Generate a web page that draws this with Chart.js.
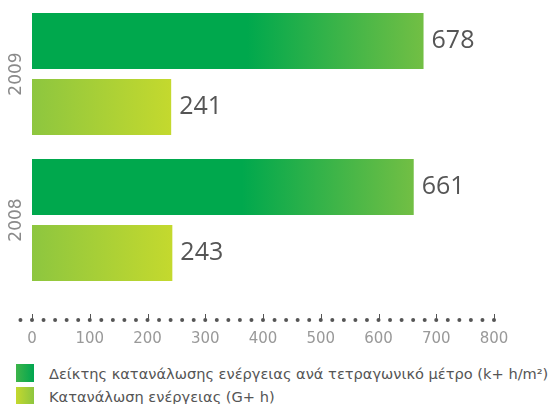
<!DOCTYPE html>
<html>
<head>
<meta charset="utf-8">
<script src="https://cdn.jsdelivr.net/npm/chart.js@4.4.1/dist/chart.umd.min.js"></script>
<style>
  html, body { margin: 0; padding: 0; background: #fff; }
  body { width: 555px; height: 404px; position: relative; overflow: hidden; font-family: "DejaVu Sans", sans-serif; }
  #wrap { position: absolute; left: 0; top: 0; width: 555px; height: 352px; }
  .legend { position: absolute; left: 16px; top: 364px; }
  .legend .item { display: flex; align-items: center; height: 18px; margin-bottom: 5px; color: #555; font-size: 14.6px; white-space: nowrap; }
  .legend .box { width: 18px; height: 18px; margin-right: 15px; flex: none; }
</style>
</head>
<body>
<div id="wrap"><canvas id="chart"></canvas></div>
<div class="legend">
  <div class="item"><span class="box" style="background: linear-gradient(to right, #3db449, #00a651)"></span><span id="lab0"></span></div>
  <div class="item"><span class="box" style="background: linear-gradient(to right, #c4d82e, #8dc63f)"></span><span id="lab1"></span></div>
</div>
<script>
const years = ['2009', '2008']
const seriesNames = ['Δείκτης κατανάλωσης ενέργειας ανά τετραγωνικό μέτρο (k+ h/m²)', 'Κατανάλωση ενέργειας (G+ h)']
const intensity = [678, 661]
const consumption = [241, 243]
const xTicks = [0, 100, 200, 300, 400, 500, 600, 700, 800]

const FONT = '"DejaVu Sans", sans-serif'
const NUM_FONT = '"Open Sans", sans-serif'

document.getElementById('lab0').textContent = seriesNames[0]
document.getElementById('lab1').textContent = seriesNames[1]

// horizontal gradient running from the zero line to the end of each bar
function barGradient(ctx, stops) {
  const chart = ctx.chart
  const x = chart.scales.x
  const fallback = stops[stops.length - 1][1]
  if (!x || !ctx.parsed) return fallback
  const x0 = x.getPixelForValue(0)
  const x1 = x.getPixelForValue(ctx.parsed.x)
  if (!isFinite(x0) || !isFinite(x1) || x1 <= x0) return fallback
  const g = chart.ctx.createLinearGradient(x0, 0, x1, 0)
  stops.forEach(s => g.addColorStop(s[0], s[1]))
  return g
}

// dotted axis line with small tick flags at every hundred
const dottedAxis = {
  id: 'dottedAxis',
  afterDraw(chart) {
    const ctx = chart.ctx
    const x = chart.scales.x
    const y = chart.chartArea.bottom + 27
    ctx.save()
    ctx.fillStyle = '#555'
    ctx.strokeStyle = '#555'
    ctx.lineWidth = 1
    for (let v = -20; v <= 800; v += 20) {
      const px = x.getPixelForValue(v)
      ctx.beginPath()
      ctx.arc(px, y, 2, 0, Math.PI * 2)
      ctx.fill()
      if (v >= 0 && v % 100 === 0) {
        ctx.beginPath()
        ctx.moveTo(Math.round(px) + 0.5, y)
        ctx.lineTo(Math.round(px) + 0.5, y - 6)
        ctx.stroke()
      }
    }
    ctx.restore()
  }
}

// year names standing sideways left of each group, value labels after each bar
const textLabels = {
  id: 'textLabels',
  afterDatasetsDraw(chart) {
    const ctx = chart.ctx
    const yScale = chart.scales.y
    ctx.save()
    ctx.fillStyle = '#8a8a8a'
    ctx.font = '17px ' + FONT
    ctx.textAlign = 'center'
    ctx.textBaseline = 'middle'
    years.forEach((yr, i) => {
      ctx.save()
      ctx.translate(17, yScale.getPixelForValue(i))
      ctx.rotate(-Math.PI / 2)
      ctx.fillText(yr, 0, 0)
      ctx.restore()
    })
    ctx.font = '25px ' + NUM_FONT
    ctx.fillStyle = '#555'
    ctx.textAlign = 'left'
    chart.data.datasets.forEach((ds, i) => {
      chart.getDatasetMeta(i).data.forEach((bar, j) => {
        ctx.fillText(String(ds.data[j]), bar.x + 8, bar.y)
      })
    })
    ctx.restore()
  }
}

new Chart(document.getElementById('chart'), {
  type: 'bar',
  data: {
    labels: years,
    datasets: [
      {
        label: seriesNames[0],
        data: intensity,
        backgroundColor: ctx => barGradient(ctx, [[0, '#00a84d'], [0.55, '#00a84d'], [1, '#72bf44']])
      },
      {
        label: seriesNames[1],
        data: consumption,
        backgroundColor: ctx => barGradient(ctx, [[0, '#8dc63f'], [1, '#c4d92e']])
      }
    ]
  },
  options: {
    indexAxis: 'y',
    responsive: true,
    maintainAspectRatio: false,
    animation: false,
    categoryPercentage: 0.904,
    barPercentage: 0.848,
    layout: { padding: { top: 1, right: 61, bottom: 6, left: 0 } },
    plugins: {
      legend: { display: false },
      tooltip: { enabled: false }
    },
    scales: {
      x: {
        min: 0,
        max: 800,
        afterBuildTicks: scale => { scale.ticks = xTicks.map(v => ({ value: v })) },
        afterFit: scale => {
          scale.height = 53
          scale.paddingLeft = 0
          scale.paddingRight = 0
        },
        grid: { display: false },
        border: { display: false },
        ticks: {
          color: '#999',
          padding: 29,
          maxRotation: 0,
          font: { family: FONT, size: 15 }
        }
      },
      y: {
        afterFit: scale => { scale.width = 32 },
        grid: { display: false },
        border: { display: false },
        ticks: { display: false }
      }
    }
  },
  plugins: [dottedAxis, textLabels]
})
</script>
</body>
</html>
